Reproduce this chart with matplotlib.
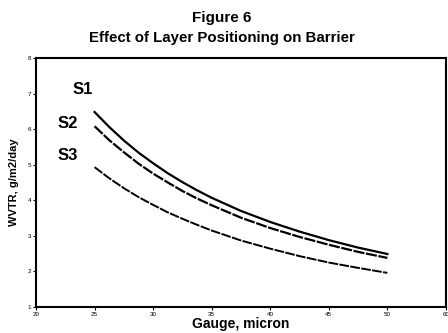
import matplotlib
matplotlib.use("Agg")
import matplotlib.pyplot as plt

plt.rcParams['font.family'] = ['Liberation Sans', 'DejaVu Sans']

gauge = [25, 26.25, 27.5, 28.75, 30, 31.25, 32.5, 33.75, 35, 37.5, 40, 42.5, 45, 47.5, 50]
s1 = [6.48, 6.06, 5.68, 5.34, 5.04, 4.76, 4.51, 4.28, 4.07, 3.70, 3.39, 3.12, 2.88, 2.67, 2.49]
s2 = [6.08, 5.69, 5.35, 5.03, 4.75, 4.50, 4.26, 4.05, 3.86, 3.51, 3.22, 2.97, 2.75, 2.55, 2.38]
s3 = [4.93, 4.62, 4.34, 4.09, 3.87, 3.66, 3.48, 3.31, 3.15, 2.87, 2.64, 2.43, 2.25, 2.10, 1.96]
series_names = ["S1", "S2", "S3"]
label_pos = [(23.95, 7.1), (22.7, 6.17), (22.7, 5.25)]
xticks = [20, 25, 30, 35, 40, 45, 50, 55]
xticklabels = ["20", "25", "30", "35", "40", "45", "50", "60"]
yticks = [1, 2, 3, 4, 5, 6, 7, 8]

fig = plt.figure(figsize=(4.48, 3.33), dpi=100)
ax = fig.add_axes([0.0804, 0.078, 0.915, 0.748])

ax.plot(gauge, s1, color='black', lw=1.6, ls='-')
ax.plot(gauge, s2, color='black', lw=1.6, ls=(0, (5, 0.7)))
ax.plot(gauge, s3, color='black', lw=1.4, ls=(0, (5, 0.7)))

for name, (x, y) in zip(series_names, label_pos):
    ax.text(x, y, name, fontsize=12, fontweight='bold', ha='center', va='center')

ax.set_xlim(20, 55)
ax.set_ylim(1, 8)
ax.set_xticks(xticks)
ax.set_xticklabels(xticklabels)
ax.set_yticks(yticks)
ax.tick_params(axis='both', labelsize=4.5, length=2, width=0.8, pad=1.5)
for sp in ax.spines.values():
    sp.set_linewidth(1.5)

ax.set_xlabel("Gauge, micron", fontsize=10, fontweight='bold', labelpad=0)
ax.set_ylabel("WVTR, g/m2/day", fontsize=8, fontweight='bold', labelpad=6)

fig.text(0.495, 0.946, "Figure 6", fontsize=11, fontweight='bold', ha='center', va='center')
fig.text(0.495, 0.885, "Effect of Layer Positioning on Barrier", fontsize=10.8,
         fontweight='bold', ha='center', va='center')

fig.savefig("out.png", dpi=100)
